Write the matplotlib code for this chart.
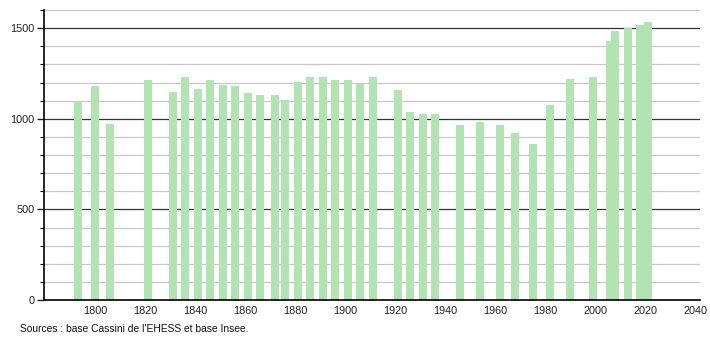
#!/usr/bin/env python3
"""Population history bar chart (census years), Cassini/Insee style."""

import matplotlib
import matplotlib.pyplot as plt
from matplotlib.ticker import MultipleLocator

matplotlib.use("Agg")

plt.rcParams["font.family"] = ["Liberation Sans", "DejaVu Sans"]

years = [1793, 1800, 1806, 1821, 1831, 1836, 1841, 1846, 1851, 1856,
         1861, 1866, 1872, 1876, 1881, 1886, 1891, 1896, 1901, 1906,
         1911, 1921, 1926, 1931, 1936, 1946, 1954, 1962, 1968, 1975,
         1982, 1990, 1999, 2006, 2008, 2013, 2018, 2021]
population = [1100, 1178, 971, 1216, 1148, 1231, 1166, 1216, 1187, 1178,
              1144, 1131, 1131, 1104, 1202, 1231, 1231, 1215, 1215, 1194,
              1231, 1159, 1037, 1024, 1024, 965, 980, 965, 921, 860,
              1076, 1220, 1233, 1427, 1483, 1501, 1516, 1535]
year_ticks = [1800, 1820, 1840, 1860, 1880, 1900, 1920, 1940, 1960, 1980, 2000, 2020, 2040]
pop_ticks = [0, 500, 1000, 1500]
source_note = "Sources : base Cassini de l'EHESS et base Insee."

BAR_COLOUR = "#b2e3b2"

fig = plt.figure(figsize=(7.1, 3.4), dpi=100)
ax = fig.add_axes([44 / 710, 40 / 340, 656 / 710, 290 / 340])

# light grid every 100, dark grid every 500
for v in range(100, 1700, 100):
    if v % 500 == 0:
        ax.axhline(v, color="#333333", linewidth=0.9, zorder=1)
    else:
        ax.axhline(v, color="#c8c8c8", linewidth=0.9, zorder=1)

ax.bar(years, population, width=3.2, color=BAR_COLOUR, zorder=2)

ax.set_xlim(1779.6, 2042)
ax.set_ylim(0, 1600)
ax.set_xticks(year_ticks)
ax.set_yticks(pop_ticks)
ax.yaxis.set_minor_locator(MultipleLocator(100))
ax.tick_params(axis="x", length=0, labelsize=7.8, pad=4, colors="#222222")
ax.tick_params(axis="y", which="major", length=5, width=1, labelsize=7.8, pad=2, colors="#222222")
ax.tick_params(axis="y", which="minor", length=3, width=0.8)

ax.spines[["top", "right"]].set_visible(False)
ax.spines["left"].set_linewidth(1.2)
ax.spines["bottom"].set_linewidth(1.2)

fig.text(20 / 710, 1 - 329 / 340, source_note, fontsize=7.4, va="center", ha="left", color="#111111")

fig.savefig("out.png", dpi=100)
plt.close(fig)
